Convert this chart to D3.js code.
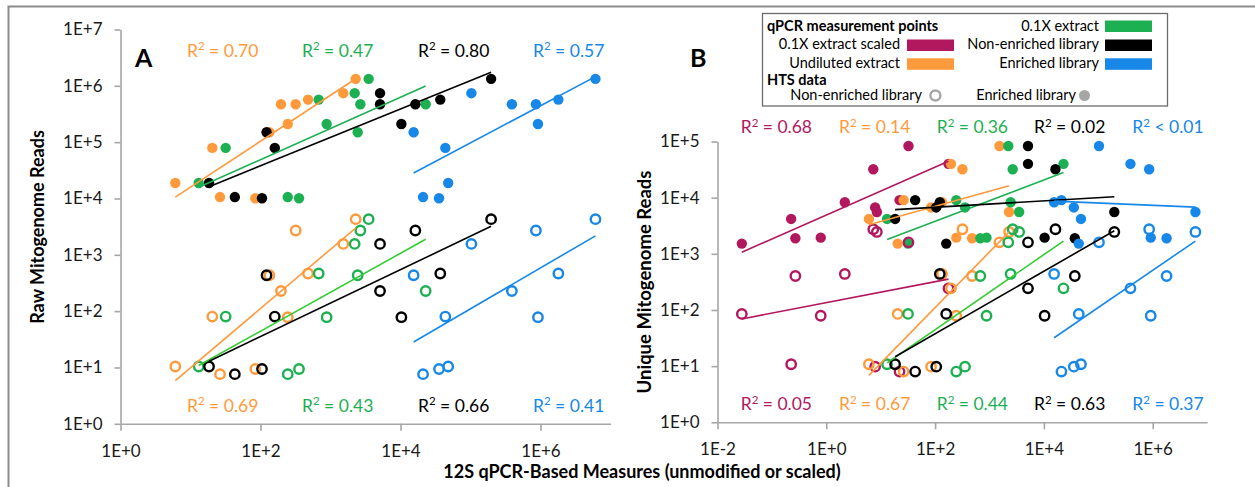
<!DOCTYPE html>
<html><head><meta charset="utf-8">
<script src="https://cdn.jsdelivr.net/npm/d3@7/dist/d3.min.js"></script>
<style>
body{margin:0;background:#fff;}
text{font-family:Lato,"Open Sans",sans-serif;white-space:pre;}
</style></head>
<body><svg id="chart" width="1255" height="487"></svg>
<script>
// ---- HTS data per sample (11 samples) ----
const samples = ["S1","S2","S3","S4","S5","S6","S7","S8","S9","S10","S11"];
const rawEnriched       = [1.88e4, 7.9e4, 1.06e4, 1.01e4, 1.5e5, 4.7e5, 2.1e5, 4.7e5, 5.7e5, 7.4e5, 1.33e6];
const rawNonEnriched    = [10.4, 80, 7.6, 9.4, 434, 228, 78, 2700, 466, 1560, 4290];
const uniqueEnriched    = [4180, 1520, 9050, 6700, 8300, 4.0e4, 1940, 3.2e4, 1890, 8.3e4, 5550];
const uniqueNonEnriched = [10.8, 85, 8.0, 9.8, 438, 243, 79, 2740, 403, 1600, 2450];

// ---- qPCR measurement points per sample ----
const qpcrScaled01X  = [0.226, 0.028, 22.2, 7.9, 2.19, 176, 0.79, 7.3, 0.27, 32.4, 8.5];
const qpcrUndiluted  = [6.07, 20.5, 26.4, 84.3, 134, 196, 245, 318, 478, 1524, 2290];
const qpcr01X        = [13.1, 31.8, 245, 355, 2445, 2.29e4, 881, 2670, 678, 2215, 3510];
const qpcrNonEnrLib  = [18.4, 160, 43, 105, 122, 5100, 1.03e4, 1.63e4, 3.7e4, 5100, 1.97e5];
const qpcrEnrLib     = [4.8e4, 4.37e4, 2.1e4, 3.55e4, 1.54e4, 3.9e5, 9.2e5, 8.6e5, 1.8e6, 1.03e5, 6.1e6];

// ---- series names / colours ----
const seriesNames  = ["0.1X extract scaled","Undiluted extract","0.1X extract","Non-enriched library","Enriched library"];
const seriesColors = ["#B2185E","#FF9A3C","#1DB053","#000000","#1787E8"];
const lowerLineColors = ["#B2185E","#FF9A3C","#33CC33","#000000","#1787E8"];

// ---- R² labels ----
const r2A_top = ["0.70","0.47","0.80","0.57"];
const r2A_bot = ["0.69","0.43","0.66","0.41"];
const r2B_top = ["0.68","0.14","0.36","0.02","0.01"];
const r2B_topOp = ["=","=","=","=","<"];
const r2B_bot = ["0.05","0.67","0.44","0.63","0.37"];

// ---- ticks ----
const ticksAx = [1,1e2,1e4,1e6];
const ticksAy = [1,1e1,1e2,1e3,1e4,1e5,1e6,1e7];
const ticksBx = [1e-2,1,1e2,1e4,1e6];
const ticksBy = [1,1e1,1e2,1e3,1e4,1e5];

const qpcrAll = [qpcrScaled01X, qpcrUndiluted, qpcr01X, qpcrNonEnrLib, qpcrEnrLib];

const svg = d3.select("#chart");
svg.append("rect").attr("x",8.5).attr("y",6.5).attr("width",1300).attr("height",600)
  .attr("fill","none").attr("stroke","#8c8c8c").attr("stroke-width",2);

const fmt = d => { const e = Math.round(Math.log10(d)); return "1E" + (e >= 0 ? "+" : "") + e; };

function styleAxis(g){
  g.select(".domain").attr("stroke","#a6a6a6").attr("stroke-width",1.6);
  g.selectAll(".tick line").attr("stroke","#a6a6a6").attr("stroke-width",1.6);
  g.selectAll(".tick text").attr("fill","#1a1a1a").style("font-size","17px").style("font-family","Lato");
}

function fit(xs, ys){
  const lx = xs.map(Math.log10), ly = ys.map(Math.log10);
  const mx = d3.mean(lx), my = d3.mean(ly);
  let sxy = 0, sxx = 0;
  lx.forEach((v,i)=>{ sxy += (v-mx)*(ly[i]-my); sxx += (v-mx)*(v-mx); });
  const b = sxy/sxx, a = my - b*mx;
  const [x0,x1] = d3.extent(xs);
  return [[x0, Math.pow(10, a + b*Math.log10(x0))],[x1, Math.pow(10, a + b*Math.log10(x1))]];
}

function r2Label(x, y, val, color, op){
  const t = svg.append("text").attr("x",x).attr("y",y).attr("fill",color).style("font-size","17.5px");
  t.append("tspan").text("R");
  t.append("tspan").attr("dy",-6.5).style("font-size","11.5px").text("2");
  t.append("tspan").attr("dy",6.5).text(" " + op + " " + val);
}

function drawPanel(opt){
  const x = d3.scaleLog().domain(opt.xDomain).range(opt.xRange);
  const y = d3.scaleLog().domain(opt.yDomain).range(opt.yRange);
  const gx = svg.append("g").attr("transform",`translate(0,${opt.yRange[0]})`)
    .call(d3.axisBottom(x).tickValues(opt.xTicks).tickFormat(fmt).tickSize(7).tickPadding(14).tickSizeOuter(0));
  styleAxis(gx);
  const gy = svg.append("g").attr("transform",`translate(${opt.xRange[0]},0)`)
    .call(d3.axisLeft(y).tickValues(opt.yTicks).tickFormat(fmt).tickSize(6).tickPadding(12).tickSizeOuter(0));
  styleAxis(gy);

  const g = svg.append("g");
  opt.series.forEach(si => {
    g.selectAll(null).data(samples).enter().append("circle")
      .attr("cx",(d,i)=>x(qpcrAll[si][i])).attr("cy",(d,i)=>y(opt.yEnr[i]))
      .attr("r",5.2).attr("fill",seriesColors[si]);
  });
  opt.series.forEach(si => {
    g.selectAll(null).data(samples).enter().append("circle")
      .attr("cx",(d,i)=>x(qpcrAll[si][i])).attr("cy",(d,i)=>y(opt.yNon[i]))
      .attr("r",4.7).attr("fill","none").attr("stroke",seriesColors[si]).attr("stroke-width",2.4);
  });
  const line = d3.line().x(d=>x(d[0])).y(d=>y(d[1]));
  opt.series.forEach(si => {
    g.append("path").attr("d",line(fit(qpcrAll[si], opt.yEnr))).attr("stroke",seriesColors[si])
      .attr("stroke-width",1.6).attr("fill","none");
    g.append("path").attr("d",line(fit(qpcrAll[si], opt.yNon))).attr("stroke",lowerLineColors[si])
      .attr("stroke-width",1.6).attr("fill","none");
  });
}

drawPanel({xDomain:[1,1e7], xRange:[120.5,610.5], yDomain:[1,1e7], yRange:[423.8,29.5],
  xTicks:ticksAx, yTicks:ticksAy, series:[1,2,3,4], yEnr:rawEnriched, yNon:rawNonEnriched});
drawPanel({xDomain:[1e-2,1e7], xRange:[717.5,1207.1], yDomain:[1,1e5], yRange:[422.3,141.5],
  xTicks:ticksBx, yTicks:ticksBy, series:[0,1,2,3,4], yEnr:uniqueEnriched, yNon:uniqueNonEnriched});

const aLeft = [187,302,418,533];
r2A_top.forEach((v,i)=>r2Label(aLeft[i],56.7,v,seriesColors[i+1],"="));
r2A_bot.forEach((v,i)=>r2Label(aLeft[i],411.7,v,seriesColors[i+1],"="));
const bLeft = [740.7,839,936.7,1034,1132.3];
r2B_top.forEach((v,i)=>r2Label(bLeft[i],133.3,v,seriesColors[i],r2B_topOp[i]));
r2B_bot.forEach((v,i)=>r2Label(bLeft[i],410,v,seriesColors[i],"="));

svg.append("text").attr("x",135).attr("y",66.7).text("A").style("font-size","25px").style("font-weight","bold");
svg.append("text").attr("x",690).attr("y",66.7).text("B").style("font-size","25px").style("font-weight","bold");

svg.append("text").attr("transform","translate(44,227) rotate(-90)").attr("text-anchor","middle")
  .style("font-size","18px").style("font-weight","bold").text("Raw Mitogenome Reads");
svg.append("text").attr("transform","translate(651,282) rotate(-90)").attr("text-anchor","middle")
  .style("font-size","18.5px").style("font-weight","bold").text("Unique Mitogenome Reads");
svg.append("text").attr("x",642).attr("y",478).attr("text-anchor","middle")
  .style("font-size","18px").style("font-weight","bold").text("12S qPCR-Based Measures (unmodified or scaled)");

const lg = svg.append("g");
lg.append("rect").attr("x",762.5).attr("y",13.5).attr("width",405).attr("height",92.5)
  .attr("fill","#fff").attr("stroke","#6b6b6b").attr("stroke-width",1.3);
const lf = "14.5px";
lg.append("text").attr("x",767).attr("y",31).style("font-size",lf).style("font-weight","bold").text("qPCR measurement points");
lg.append("text").attr("x",767).attr("y",84.5).style("font-size",lf).style("font-weight","bold").text("HTS data");
const legRows = [
  {name:seriesNames[0], c:seriesColors[0], tx:900, sx:907, ty:49.3, sy:39.5},
  {name:seriesNames[1], c:seriesColors[1], tx:900, sx:907, ty:67.8, sy:58.3},
  {name:seriesNames[2], c:seriesColors[2], tx:1099, sx:1105, ty:30.5, sy:20.5},
  {name:seriesNames[3], c:seriesColors[3], tx:1099, sx:1105, ty:49.3, sy:39.5},
  {name:seriesNames[4], c:seriesColors[4], tx:1099, sx:1105, ty:67.8, sy:58.3}
];
legRows.forEach(r=>{
  lg.append("text").attr("x",r.tx).attr("y",r.ty).attr("text-anchor","end").style("font-size",lf).text(r.name);
  lg.append("rect").attr("x",r.sx).attr("y",r.sy).attr("width",47).attr("height",11.5).attr("fill",r.c);
});
lg.append("text").attr("x",922).attr("y",100).attr("text-anchor","end").style("font-size",lf).text("Non-enriched library");
lg.append("circle").attr("cx",935.4).attr("cy",95.5).attr("r",5).attr("fill","none").attr("stroke","#a6a6a6").attr("stroke-width",2.4);
lg.append("text").attr("x",1076).attr("y",100).attr("text-anchor","end").style("font-size",lf).text("Enriched library");
lg.append("circle").attr("cx",1084.5).attr("cy",95.5).attr("r",5.5).attr("fill","#a6a6a6");
</script>
</body></html>
